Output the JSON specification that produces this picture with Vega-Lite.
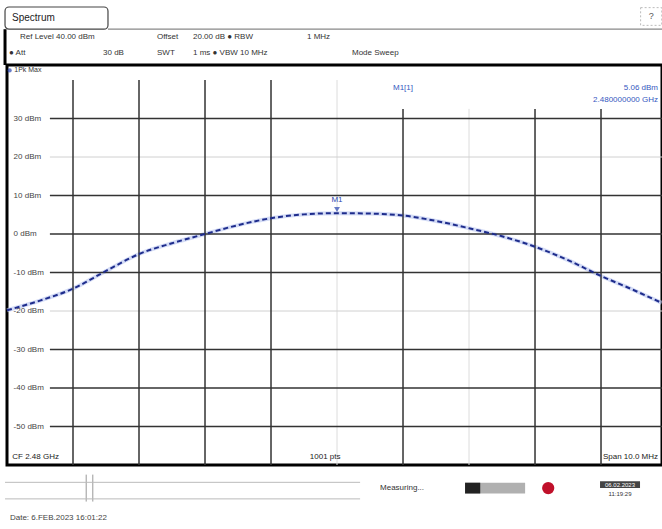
{
  "$schema": "https://vega.github.io/schema/vega-lite/v6.json",
  "width": 655,
  "height": 400,
  "autosize": "none",
  "padding": {"left": 7, "top": 65, "right": 0, "bottom": 64},
  "background": "white",
  "config": {"view": {"stroke": "#000", "strokeWidth": 3}, "font": "Liberation Sans", "axis": {"disable": true}},
  "datasets": {
    "trace": [
      {"f": 2475.0, "dbm": -19.8}, {"f": 2475.5, "dbm": -17.3}, {"f": 2476.0, "dbm": -14.2},
      {"f": 2476.5, "dbm": -9.6}, {"f": 2477.0, "dbm": -5.2}, {"f": 2477.5, "dbm": -2.4},
      {"f": 2478.0, "dbm": 0.0}, {"f": 2478.5, "dbm": 2.3}, {"f": 2479.0, "dbm": 4.1},
      {"f": 2479.5, "dbm": 5.1}, {"f": 2480.0, "dbm": 5.4}, {"f": 2480.5, "dbm": 5.3},
      {"f": 2481.0, "dbm": 4.8}, {"f": 2481.5, "dbm": 3.4}, {"f": 2482.0, "dbm": 1.5},
      {"f": 2482.5, "dbm": -0.6}, {"f": 2483.0, "dbm": -3.3}, {"f": 2483.5, "dbm": -6.8},
      {"f": 2484.0, "dbm": -10.9}, {"f": 2484.5, "dbm": -14.6}, {"f": 2484.92, "dbm": -17.9}
    ],
    "levels": [
      {"dbm": 30, "label": "30 dBm"}, {"dbm": 20, "label": "20 dBm"}, {"dbm": 10, "label": "10 dBm"},
      {"dbm": 0, "label": "0 dBm"}, {"dbm": -10, "label": "-10 dBm"}, {"dbm": -20, "label": "-20 dBm"},
      {"dbm": -30, "label": "-30 dBm"}, {"dbm": -40, "label": "-40 dBm"}, {"dbm": -50, "label": "-50 dBm"}
    ]
  },
  "layer": [
    {"data": {"name": "trace"}, "mark": {"type": "line", "color": "#b8c4f0", "strokeWidth": 4, "opacity": 0.6, "interpolate": "monotone"},
     "encoding": {"x": {"field": "f", "type": "quantitative", "scale": {"domain": [2475, 2484.924], "nice": false, "zero": false}, "axis": null},
                  "y": {"field": "dbm", "type": "quantitative", "scale": {"domain": [-60, 43.9], "nice": false, "zero": false}, "axis": null}}},
    {"data": {"values": [{"f": 2480}]}, "mark": {"type": "rule", "color": "#dcdcdc", "strokeWidth": 1}, "encoding": {"x": {"field": "f", "type": "quantitative"}, "y": {"datum": 40}, "y2": {"datum": -60}}},
    {"data": {"values": [{"f": 2482}]}, "mark": {"type": "rule", "color": "#dcdcdc", "strokeWidth": 1}, "encoding": {"x": {"field": "f", "type": "quantitative"}, "y": {"datum": 32.5}, "y2": {"datum": -60}}},
    {"data": {"values": [{"dbm": 20}, {"dbm": -20}]}, "mark": {"type": "rule", "color": "#d0d0d0", "strokeWidth": 1}, "encoding": {"y": {"field": "dbm", "type": "quantitative"}, "x": {"datum": 2475.65}, "x2": {"datum": 2484.924}}},
    {"data": {"values": [{"f": 2476}, {"f": 2477}, {"f": 2478}, {"f": 2479}]}, "mark": {"type": "rule", "color": "#333", "strokeWidth": 1.5}, "encoding": {"x": {"field": "f", "type": "quantitative"}, "y": {"datum": 40}, "y2": {"datum": -60}}},
    {"data": {"values": [{"f": 2481}, {"f": 2483}, {"f": 2484}]}, "mark": {"type": "rule", "color": "#333", "strokeWidth": 1.5}, "encoding": {"x": {"field": "f", "type": "quantitative"}, "y": {"datum": 32.5}, "y2": {"datum": -60}}},
    {"data": {"values": [{"dbm": 30}, {"dbm": 10}, {"dbm": 0}, {"dbm": -10}, {"dbm": -30}, {"dbm": -40}, {"dbm": -50}]}, "mark": {"type": "rule", "color": "#333", "strokeWidth": 1.5}, "encoding": {"y": {"field": "dbm", "type": "quantitative"}, "x": {"datum": 2475.65}, "x2": {"datum": 2484.924}}},
    {"data": {"name": "levels"}, "mark": {"type": "text", "align": "left", "baseline": "middle", "fontSize": 8, "color": "#444"}, "encoding": {"y": {"field": "dbm", "type": "quantitative"}, "x": {"datum": 2475.1}, "text": {"field": "label"}}},
    {"data": {"name": "trace"}, "mark": {"type": "line", "color": "#1e2c8c", "strokeWidth": 2, "strokeDash": [5, 3], "interpolate": "monotone"}, "encoding": {"x": {"field": "f", "type": "quantitative"}, "y": {"field": "dbm", "type": "quantitative"}}},
    {"data": {"values": [{"f": 2480.0, "dbm": 5.06}]}, "mark": {"type": "point", "shape": "triangle-down", "filled": true, "size": 35, "color": "#2a46b0", "yOffset": -5}, "encoding": {"x": {"field": "f", "type": "quantitative"}, "y": {"field": "dbm", "type": "quantitative"}}},
    {"data": {"values": [{"f": 2480.0, "dbm": 5.06}]}, "mark": {"type": "text", "text": "M1", "fontSize": 8, "color": "#2a46b0", "dy": -15}, "encoding": {"x": {"field": "f", "type": "quantitative"}, "y": {"field": "dbm", "type": "quantitative"}}},
    {"data": {"values": [{}]}, "mark": {"type": "text", "text": "M1[1]", "fontSize": 8, "align": "left", "baseline": "middle", "color": "#3558c0"}, "encoding": {"x": {"datum": 2480.848}, "y": {"datum": 37.9}}},
    {"data": {"values": [{}]}, "mark": {"type": "text", "text": "5.06 dBm", "fontSize": 8, "align": "right", "baseline": "middle", "color": "#3558c0"}, "encoding": {"x": {"datum": 2484.864}, "y": {"datum": 37.9}}},
    {"data": {"values": [{}]}, "mark": {"type": "text", "text": "2.480000000 GHz", "fontSize": 8, "align": "right", "baseline": "middle", "color": "#3558c0"}, "encoding": {"x": {"datum": 2484.864}, "y": {"datum": 34.8}}},
    {"data": {"values": [{}]}, "mark": {"type": "point", "shape": "circle", "filled": true, "size": 18, "color": "#2a46b0"}, "encoding": {"x": {"datum": 2475.04}, "y": {"datum": 42.5}}},
    {"data": {"values": [{}]}, "mark": {"type": "text", "text": "1Pk Max", "fontSize": 7, "align": "left", "baseline": "middle", "color": "#333"}, "encoding": {"x": {"datum": 2475.11}, "y": {"datum": 42.5}}},
    {"data": {"values": [{}]}, "mark": {"type": "text", "text": "CF 2.48 GHz", "fontSize": 8, "align": "left", "baseline": "middle", "color": "#222"}, "encoding": {"x": {"datum": 2475.08}, "y": {"datum": -57.9}}},
    {"data": {"values": [{}]}, "mark": {"type": "text", "text": "1001 pts", "fontSize": 8, "align": "center", "baseline": "middle", "color": "#222"}, "encoding": {"x": {"datum": 2479.82}, "y": {"datum": -57.9}}},
    {"data": {"values": [{}]}, "mark": {"type": "text", "text": "Span 10.0 MHz", "fontSize": 8, "align": "right", "baseline": "middle", "color": "#222"}, "encoding": {"x": {"datum": 2484.864}, "y": {"datum": -57.9}}},
    {"data": {"values": [{}]}, "mark": {"type": "rect", "fill": "white", "stroke": "#444", "strokeWidth": 1.2, "cornerRadius": 4}, "encoding": {"x": {"datum": 2474.97}, "x2": {"datum": 2476.53}, "y": {"datum": 53.2}, "y2": {"datum": 58.96}}},
    {"data": {"values": [{}]}, "mark": {"type": "rule", "color": "#888", "strokeWidth": 1.2}, "encoding": {"x": {"datum": 2476.53}, "x2": {"datum": 2484.924}, "y": {"datum": 53.2}}},
    {"data": {"values": [{}]}, "mark": {"type": "rule", "color": "#000", "strokeWidth": 3}, "encoding": {"x": {"datum": 2474.97}, "y": {"datum": 43.9}, "y2": {"datum": 53.2}}},
    {"data": {"values": [{}]}, "mark": {"type": "rect", "fill": "white", "stroke": "#bbb", "strokeWidth": 1, "strokeDash": [2, 2]}, "encoding": {"x": {"datum": 2484.6}, "x2": {"datum": 2484.92}, "y": {"datum": 54.2}, "y2": {"datum": 58.8}}},
    {"data": {"values": [{}]}, "mark": {"type": "text", "text": "?", "fontSize": 9, "align": "center", "baseline": "middle", "color": "#555"}, "encoding": {"x": {"datum": 2484.76}, "y": {"datum": 56.5}}},
    {"data": {"values": [{}]}, "mark": {"type": "text", "text": "Spectrum", "fontSize": 10, "align": "left", "baseline": "middle", "color": "#222"}, "encoding": {"x": {"datum": 2475.076}, "y": {"datum": 56.1}}},
    {"data": {"values": [{}]}, "mark": {"type": "text", "text": "Ref Level 40.00 dBm", "fontSize": 8, "align": "left", "baseline": "middle", "color": "#333"}, "encoding": {"x": {"datum": 2475.197}, "y": {"datum": 51.2}}},
    {"data": {"values": [{}]}, "mark": {"type": "text", "text": "Offset", "fontSize": 8, "align": "left", "baseline": "middle", "color": "#333"}, "encoding": {"x": {"datum": 2477.273}, "y": {"datum": 51.2}}},
    {"data": {"values": [{}]}, "mark": {"type": "text", "text": "20.00 dB ● RBW", "fontSize": 8, "align": "left", "baseline": "middle", "color": "#333"}, "encoding": {"x": {"datum": 2477.818}, "y": {"datum": 51.2}}},
    {"data": {"values": [{}]}, "mark": {"type": "text", "text": "1 MHz", "fontSize": 8, "align": "left", "baseline": "middle", "color": "#333"}, "encoding": {"x": {"datum": 2479.545}, "y": {"datum": 51.2}}},
    {"data": {"values": [{}]}, "mark": {"type": "text", "text": "● Att", "fontSize": 8, "align": "left", "baseline": "middle", "color": "#333"}, "encoding": {"x": {"datum": 2475.03}, "y": {"datum": 47.0}}},
    {"data": {"values": [{}]}, "mark": {"type": "text", "text": "30 dB", "fontSize": 8, "align": "left", "baseline": "middle", "color": "#333"}, "encoding": {"x": {"datum": 2476.455}, "y": {"datum": 47.0}}},
    {"data": {"values": [{}]}, "mark": {"type": "text", "text": "SWT", "fontSize": 8, "align": "left", "baseline": "middle", "color": "#333"}, "encoding": {"x": {"datum": 2477.273}, "y": {"datum": 47.0}}},
    {"data": {"values": [{}]}, "mark": {"type": "text", "text": "1 ms ● VBW 10 MHz", "fontSize": 8, "align": "left", "baseline": "middle", "color": "#333"}, "encoding": {"x": {"datum": 2477.818}, "y": {"datum": 47.0}}},
    {"data": {"values": [{}]}, "mark": {"type": "text", "text": "Mode Sweep", "fontSize": 8, "align": "left", "baseline": "middle", "color": "#333"}, "encoding": {"x": {"datum": 2480.227}, "y": {"datum": 47.0}}},
    {"data": {"values": [{}]}, "mark": {"type": "rule", "color": "#999", "strokeWidth": 1}, "encoding": {"x": {"datum": 2476.2}, "y": {"datum": -62.5}, "y2": {"datum": -69.5}}},
    {"data": {"values": [{}]}, "mark": {"type": "rule", "color": "#999", "strokeWidth": 1}, "encoding": {"x": {"datum": 2476.3}, "y": {"datum": -62.5}, "y2": {"datum": -69.5}}},
    {"data": {"values": [{}]}, "mark": {"type": "rule", "color": "#bbb", "strokeWidth": 1}, "encoding": {"x": {"datum": 2474.97}, "x2": {"datum": 2480.35}, "y": {"datum": -64.5}}},
    {"data": {"values": [{}]}, "mark": {"type": "rule", "color": "#bbb", "strokeWidth": 1}, "encoding": {"x": {"datum": 2474.97}, "x2": {"datum": 2480.35}, "y": {"datum": -68.8}}},
    {"data": {"values": [{}]}, "mark": {"type": "text", "text": "Measuring...", "fontSize": 8, "align": "left", "baseline": "middle", "color": "#333"}, "encoding": {"x": {"datum": 2480.652}, "y": {"datum": -66.0}}},
    {"data": {"values": [{}]}, "mark": {"type": "rect", "fill": "#b0b0b0"}, "encoding": {"x": {"datum": 2481.94}, "x2": {"datum": 2482.85}, "y": {"datum": -64.6}, "y2": {"datum": -67.4}}},
    {"data": {"values": [{}]}, "mark": {"type": "rect", "fill": "#222"}, "encoding": {"x": {"datum": 2481.94}, "x2": {"datum": 2482.17}, "y": {"datum": -64.6}, "y2": {"datum": -67.4}}},
    {"data": {"values": [{}]}, "mark": {"type": "point", "shape": "circle", "filled": true, "size": 150, "color": "#c0102a", "opacity": 1}, "encoding": {"x": {"datum": 2483.2}, "y": {"datum": -66.0}}},
    {"data": {"values": [{}]}, "mark": {"type": "rect", "fill": "#444"}, "encoding": {"x": {"datum": 2483.985}, "x2": {"datum": 2484.591}, "y": {"datum": -64.2}, "y2": {"datum": -66.0}}},
    {"data": {"values": [{}]}, "mark": {"type": "text", "text": "06.02.2023", "fontSize": 6, "align": "center", "baseline": "middle", "color": "white"}, "encoding": {"x": {"datum": 2484.288}, "y": {"datum": -65.1}}},
    {"data": {"values": [{}]}, "mark": {"type": "text", "text": "11:19:29", "fontSize": 6, "align": "center", "baseline": "middle", "color": "#333"}, "encoding": {"x": {"datum": 2484.288}, "y": {"datum": -67.6}}},
    {"data": {"values": [{}]}, "mark": {"type": "text", "text": "Date: 6.FEB.2023  16:01:22", "fontSize": 8, "align": "left", "baseline": "middle", "color": "#444"}, "encoding": {"x": {"datum": 2475.045}, "y": {"datum": -73.8}}}
  ]
}
